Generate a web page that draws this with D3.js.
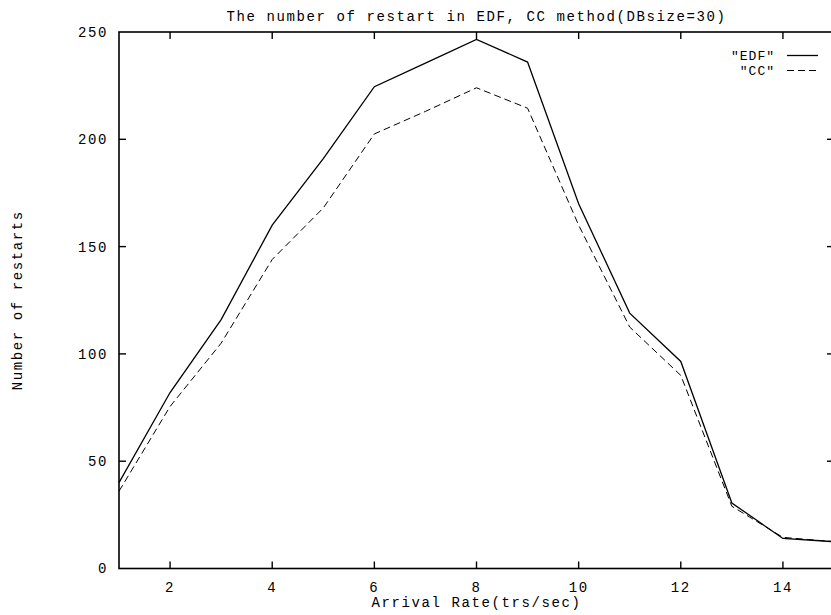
<!DOCTYPE html>
<html>
<head>
<meta charset="utf-8">
<script src="https://cdn.jsdelivr.net/npm/d3@7"></script>
<style>
  body { margin: 0; background: #fff; }
  svg text { font-family: "Liberation Mono", "DejaVu Sans Mono", monospace; font-size: 14px; letter-spacing: 1.6px; fill: #000; }
</style>
</head>
<body>
<div id="chart"></div>
<script>
var width = 831,
  height = 615;

// arrival rate (trs/sec)
var rates = [1, 2, 3, 4, 5, 6, 7, 8, 9, 10, 11, 12, 13, 14, 15];
var edfRestarts = [40, 82, 116, 160, 191, 224.5, 235.5, 246.5, 236, 170, 119, 96.5, 30.5, 14, 12.5];
var ccRestarts = [36, 75.5, 105, 144, 168, 202.5, 213, 224, 214.5, 160, 112.5, 90, 29, 14.5, 12.5];
var xTicks = [2, 4, 6, 8, 10, 12, 14];
var yTicks = [0, 50, 100, 150, 200, 250];
var seriesNames = ['"EDF"', '"CC"'];

var plotLeft = 119, plotRight = 834, plotTop = 32, plotBottom = 568.5;

var x = d3.scaleLinear().domain([1, 15]).range([plotLeft, plotRight]);
var y = d3.scaleLinear().domain([0, 250]).range([plotBottom, plotTop]);

var svg = d3.select("#chart").append("svg")
  .attr("width", width)
  .attr("height", height);

// frame
svg.append("rect")
  .attr("x", plotLeft).attr("y", plotTop)
  .attr("width", plotRight - plotLeft).attr("height", plotBottom - plotTop)
  .attr("fill", "none").attr("stroke", "#000").attr("stroke-width", 1.6);

var tickLen = 7;

// ticks on all four sides, pointing inward
var tickG = svg.append("g").attr("stroke", "#000").attr("stroke-width", 1.4);
xTicks.forEach(function(t) {
  tickG.append("line").attr("x1", x(t)).attr("x2", x(t)).attr("y1", plotBottom).attr("y2", plotBottom - tickLen);
  tickG.append("line").attr("x1", x(t)).attr("x2", x(t)).attr("y1", plotTop).attr("y2", plotTop + tickLen);
});
yTicks.forEach(function(t) {
  if (t === 0 || t === 250) return;
  tickG.append("line").attr("x1", plotLeft).attr("x2", plotLeft + tickLen).attr("y1", y(t)).attr("y2", y(t));
  tickG.append("line").attr("x1", plotRight).attr("x2", plotRight - tickLen).attr("y1", y(t)).attr("y2", y(t));
});

svg.selectAll(".xlabel")
  .data(xTicks)
  .enter().append("text")
  .attr("x", function(d) { return x(d); })
  .attr("y", 592)
  .attr("text-anchor", "middle")
  .text(function(d) { return d; });

svg.selectAll(".ylabel")
  .data(yTicks)
  .enter().append("text")
  .attr("x", 108)
  .attr("y", function(d) { return y(d); })
  .attr("dy", "0.35em")
  .attr("text-anchor", "end")
  .text(function(d) { return d; });

// titles
svg.append("text")
  .attr("x", (plotLeft + plotRight) / 2)
  .attr("y", 21)
  .attr("text-anchor", "middle")
  .text("The number of restart in EDF, CC method(DBsize=30)");

svg.append("text")
  .attr("x", (plotLeft + plotRight) / 2)
  .attr("y", 607)
  .attr("text-anchor", "middle")
  .text("Arrival Rate(trs/sec)");

svg.append("text")
  .attr("transform", "translate(22," + ((plotTop + plotBottom) / 2) + ") rotate(-90)")
  .attr("text-anchor", "middle")
  .text("Number of restarts");

var line = d3.line()
  .x(function(d) { return x(d[0]); })
  .y(function(d) { return y(d[1]); });

var plot = svg.append("g");

plot.append("path")
  .datum(d3.zip(rates, edfRestarts))
  .attr("d", line)
  .attr("fill", "none")
  .attr("stroke", "#000")
  .attr("stroke-width", 1.3);

plot.append("path")
  .datum(d3.zip(rates, ccRestarts))
  .attr("d", line)
  .attr("fill", "none")
  .attr("stroke", "#000")
  .attr("stroke-width", 1)
  .attr("stroke-dasharray", "7,4");

// key
var key = svg.append("g");
key.append("text").attr("x", 775).attr("y", 60).attr("text-anchor", "end")
  .style("font-size", "13px").style("letter-spacing", "1px").text(seriesNames[0]);
key.append("line").attr("x1", 787).attr("x2", 818).attr("y1", 55.5).attr("y2", 55.5)
  .attr("stroke", "#000").attr("stroke-width", 1.3);
key.append("text").attr("x", 775).attr("y", 75).attr("text-anchor", "end")
  .style("font-size", "13px").style("letter-spacing", "1px").text(seriesNames[1]);
key.append("line").attr("x1", 787).attr("x2", 818).attr("y1", 70.5).attr("y2", 70.5)
  .attr("stroke", "#000").attr("stroke-width", 1).attr("stroke-dasharray", "7,4");
</script>
</body>
</html>
